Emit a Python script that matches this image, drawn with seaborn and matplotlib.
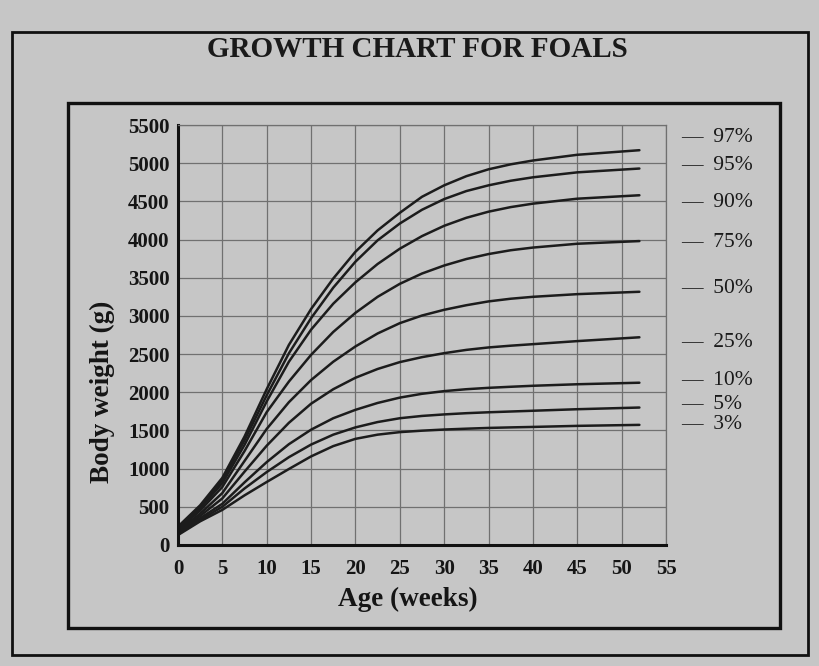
import numpy as np
import pandas as pd
import matplotlib.pyplot as plt
import seaborn as sns
from matplotlib.patches import Rectangle

# age in weeks at which the curves were read
weeks = [0, 2.5, 5, 7.5, 10, 12.5, 15, 17.5, 20, 22.5, 25, 27.5, 30, 32.5, 35, 37.5, 40, 45, 52]

# body weight (g) for each percentile
p97 = [240, 520, 880, 1420, 2040, 2620, 3090, 3490, 3840, 4120, 4350, 4560, 4710, 4830, 4920, 4985, 5035, 5110, 5170]
p95 = [230, 500, 850, 1370, 1960, 2510, 2970, 3370, 3710, 3990, 4210, 4390, 4530, 4635, 4710, 4770, 4815, 4880, 4930]
p90 = [220, 480, 810, 1310, 1880, 2400, 2820, 3160, 3440, 3680, 3880, 4045, 4180, 4285, 4365, 4425, 4470, 4535, 4580]
p75 = [200, 450, 760, 1230, 1740, 2140, 2490, 2790, 3040, 3250, 3420, 3555, 3660, 3745, 3810, 3860, 3895, 3945, 3980]
p50 = [185, 410, 680, 1100, 1520, 1870, 2160, 2400, 2600, 2770, 2905, 3005, 3080, 3140, 3190, 3225, 3250, 3285, 3316]
p25 = [170, 380, 610, 960, 1300, 1600, 1850, 2040, 2190, 2305, 2395, 2460, 2512, 2555, 2587, 2610, 2630, 2670, 2720]
p10 = [155, 350, 540, 820, 1085, 1320, 1510, 1660, 1770, 1860, 1930, 1980, 2015, 2040, 2058, 2072, 2085, 2105, 2125]
p05 = [140, 330, 500, 740, 955, 1150, 1315, 1445, 1540, 1610, 1660, 1690, 1710, 1726, 1738, 1748, 1758, 1778, 1800]
p03 = [130, 310, 460, 650, 825, 995, 1160, 1295, 1390, 1445, 1478, 1497, 1512, 1523, 1533, 1540, 1546, 1560, 1573]

pct_names = ["97%", "95%", "90%", "75%", "50%", "25%", "10%", "5%", "3%"]
pct_values = [p97, p95, p90, p75, p50, p25, p10, p05, p03]
# where the labels sit on the right (in g)
label_y = [5330, 4970, 4490, 3965, 3364, 2658, 2148, 1834, 1573]

x_ticks = list(range(0, 56, 5))
y_ticks = list(range(0, 5501, 500))

rows = []
for name, vals in zip(pct_names, pct_values):
    for w, v in zip(weeks, vals):
        rows.append({"week": w, "weight": v, "pct": name})
df = pd.DataFrame(rows)

sns.set_theme(style="white")
plt.rcParams["font.family"] = ["Liberation Serif", "DejaVu Serif"]

bg = "#c6c6c6"
fig = plt.figure(figsize=(8.19, 6.66), dpi=100, facecolor=bg)
ax = fig.add_axes([0.2173, 0.1817, 0.5959, 0.6306])
ax.set_facecolor(bg)

sns.lineplot(data=df, x="week", y="weight", units="pct", estimator=None,
             color="#1c1c1c", linewidth=1.8, ax=ax, legend=False)

ax.set_xlim(0, 55)
ax.set_ylim(0, 5500)
ax.set_xticks(x_ticks)
ax.set_yticks(y_ticks)
ax.grid(True, color="#707070", linewidth=0.9)
ax.set_axisbelow(True)

for s in ["left", "bottom"]:
    ax.spines[s].set_color("#111111")
    ax.spines[s].set_linewidth(2.2)
for s in ["top", "right"]:
    ax.spines[s].set_color("#707070")
    ax.spines[s].set_linewidth(0.9)

ax.tick_params(axis="both", direction="out", length=5, width=1.5, color="#111111",
               labelsize=15, labelcolor="#151515", pad=1)
for lab in ax.get_xticklabels() + ax.get_yticklabels():
    lab.set_fontweight("bold")
ax.tick_params(axis="x", pad=5)

ax.set_xlabel("Age (weeks)", fontsize=19.5, fontweight="bold", color="#151515")
ax.set_ylabel("Body weight (g)", fontsize=19.5, fontweight="bold", color="#151515")
ax.xaxis.set_label_coords(0.471, -0.1)
ax.yaxis.set_label_coords(-0.13, 0.364)

for name, y in zip(pct_names, label_y):
    ax.annotate("\u2014  " + name, xy=(1.03, y), xycoords=("axes fraction", "data"),
                fontsize=15.5, color="#1a1a1a", va="center", ha="left",
                annotation_clip=False)

# inner and outer frames
fig.patches.append(Rectangle((0.083, 0.057), 0.869, 0.788, transform=fig.transFigure,
                             fill=False, edgecolor="#111111", linewidth=2.4))
fig.patches.append(Rectangle((0.0147, 0.0165), 0.972, 0.935, transform=fig.transFigure,
                             fill=False, edgecolor="#111111", linewidth=2.0))

fig.text(0.51, 0.925, "GROWTH CHART FOR FOALS", ha="center", va="center",
         fontsize=21, fontweight="bold", color="#1a1a1a")

fig.savefig("out.png", dpi=100, facecolor=bg)
